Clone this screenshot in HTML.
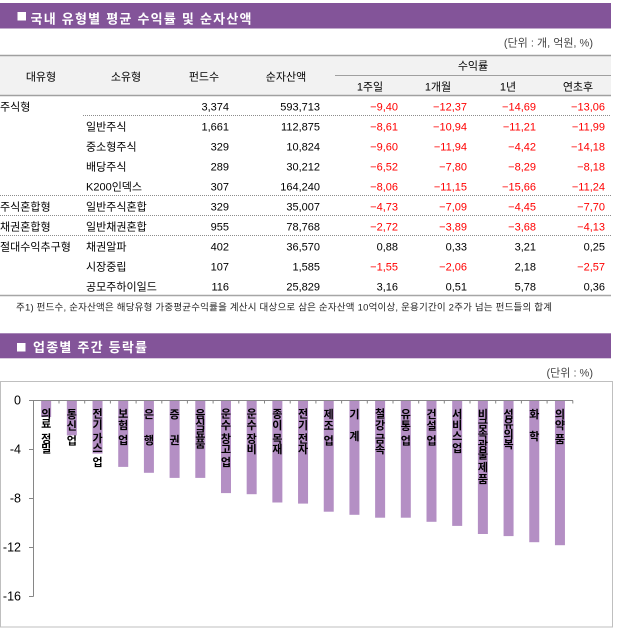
<!DOCTYPE html>
<html>
<head>
<meta charset="utf-8">
<style>
html,body{margin:0;padding:0;background:#fff;}
svg{display:block;}
text{font-family:"Liberation Sans","Noto Sans CJK KR",sans-serif;}
</style>
</head>
<body>
<svg width="617" height="629" viewBox="0 0 617 629" xmlns="http://www.w3.org/2000/svg">
<rect x="0" y="0" width="617" height="629" fill="#fff"/>

<!-- Title 1 -->
<rect x="0" y="3" width="611" height="25.5" fill="#835499"/>
<rect x="17.5" y="12" width="8.5" height="8.5" fill="#fff"/>
<text x="30.5" y="23.5" font-size="13" font-weight="bold" fill="#fff" textLength="221" lengthAdjust="spacing">국내 유형별 평균 수익률 및 순자산액</text>

<text x="593" y="46.5" font-size="11" fill="#444" text-anchor="end">(단위 : 개, 억원, %)</text>

<!-- Table header -->
<rect x="0" y="55" width="611" height="40.5" fill="#f2f2f2"/>
<line x1="0" y1="55.5" x2="611" y2="55.5" stroke="#a0a0a0" stroke-width="1.5"/>
<line x1="0" y1="95.5" x2="611" y2="95.5" stroke="#a0a0a0" stroke-width="1.5"/>
<line x1="335" y1="75.5" x2="611" y2="75.5" stroke="#a0a0a0" stroke-width="1"/>

<g font-size="11" fill="#000" text-anchor="middle">
<text x="41" y="80.5">대유형</text>
<text x="126" y="80.5">소유형</text>
<text x="204" y="80.5">펀드수</text>
<text x="286" y="80.5">순자산액</text>
<text x="473" y="69.5">수익률</text>
<text x="370" y="90.5">1주일</text>
<text x="438" y="90.5">1개월</text>
<text x="508" y="90.5">1년</text>
<text x="578" y="90.5">연초후</text>
</g>

<!-- dotted separators -->
<g stroke="#8c8c8c" stroke-width="1" stroke-dasharray="1,1">
<line x1="83" y1="115.5" x2="611" y2="115.5"/>
<line x1="0" y1="195.5" x2="611" y2="195.5"/>
<line x1="0" y1="215.5" x2="611" y2="215.5"/>
<line x1="0" y1="235.5" x2="611" y2="235.5"/>
</g>
<line x1="0" y1="295.5" x2="611" y2="295.5" stroke="#a6a6a6" stroke-width="1.5"/>

<!-- Table body -->
<g font-size="11" fill="#000">
<text x="0" y="110.7">주식형</text>
<text x="0" y="210.7">주식혼합형</text>
<text x="0" y="230.7">채권혼합형</text>
<text x="0" y="250.7">절대수익추구형</text>

<text x="86" y="130.7">일반주식</text>
<text x="86" y="150.7">중소형주식</text>
<text x="86" y="170.7">배당주식</text>
<text x="86" y="190.7">K200인덱스</text>
<text x="86" y="210.7">일반주식혼합</text>
<text x="86" y="230.7">일반채권혼합</text>
<text x="86" y="250.7">채권알파</text>
<text x="86" y="270.7">시장중립</text>
<text x="86" y="290.7">공모주하이일드</text>
</g>

<g font-size="11" fill="#000" text-anchor="end">
<text x="229" y="110.7">3,374</text>
<text x="229" y="130.7">1,661</text>
<text x="229" y="150.7">329</text>
<text x="229" y="170.7">289</text>
<text x="229" y="190.7">307</text>
<text x="229" y="210.7">329</text>
<text x="229" y="230.7">955</text>
<text x="229" y="250.7">402</text>
<text x="229" y="270.7">107</text>
<text x="229" y="290.7">116</text>

<text x="320" y="110.7">593,713</text>
<text x="320" y="130.7">112,875</text>
<text x="320" y="150.7">10,824</text>
<text x="320" y="170.7">30,212</text>
<text x="320" y="190.7">164,240</text>
<text x="320" y="210.7">35,007</text>
<text x="320" y="230.7">78,768</text>
<text x="320" y="250.7">36,570</text>
<text x="320" y="270.7">1,585</text>
<text x="320" y="290.7">25,829</text>
</g>

<g font-size="11" text-anchor="end" fill="#ff0000">
<text x="398" y="110.7">−9,40</text>
<text x="467" y="110.7">−12,37</text>
<text x="536" y="110.7">−14,69</text>
<text x="605" y="110.7">−13,06</text>

<text x="398" y="130.7">−8,61</text>
<text x="467" y="130.7">−10,94</text>
<text x="536" y="130.7">−11,21</text>
<text x="605" y="130.7">−11,99</text>

<text x="398" y="150.7">−9,60</text>
<text x="467" y="150.7">−11,94</text>
<text x="536" y="150.7">−4,42</text>
<text x="605" y="150.7">−14,18</text>

<text x="398" y="170.7">−6,52</text>
<text x="467" y="170.7">−7,80</text>
<text x="536" y="170.7">−8,29</text>
<text x="605" y="170.7">−8,18</text>

<text x="398" y="190.7">−8,06</text>
<text x="467" y="190.7">−11,15</text>
<text x="536" y="190.7">−15,66</text>
<text x="605" y="190.7">−11,24</text>

<text x="398" y="210.7">−4,73</text>
<text x="467" y="210.7">−7,09</text>
<text x="536" y="210.7">−4,45</text>
<text x="605" y="210.7">−7,70</text>

<text x="398" y="230.7">−2,72</text>
<text x="467" y="230.7">−3,89</text>
<text x="536" y="230.7">−3,68</text>
<text x="605" y="230.7">−4,13</text>

<text x="398" y="270.7">−1,55</text>
<text x="467" y="270.7">−2,06</text>
<text x="605" y="270.7">−2,57</text>
</g>
<g font-size="11" text-anchor="end" fill="#000">
<text x="398" y="250.7">0,88</text>
<text x="467" y="250.7">0,33</text>
<text x="536" y="250.7">3,21</text>
<text x="605" y="250.7">0,25</text>
<text x="536" y="270.7">2,18</text>
<text x="398" y="290.7">3,16</text>
<text x="467" y="290.7">0,51</text>
<text x="536" y="290.7">5,78</text>
<text x="605" y="290.7">0,36</text>
</g>

<text x="16" y="310.5" font-size="9.5" fill="#222" textLength="536" lengthAdjust="spacing">주1) 펀드수, 순자산액은 해당유형 가중평균수익률을 계산시 대상으로 삼은 순자산액 10억이상, 운용기간이 2주가 넘는 펀드들의 합계</text>

<!-- Title 2 -->
<rect x="0" y="333.3" width="611" height="25" fill="#835499"/>
<rect x="17" y="343" width="8.5" height="8.5" fill="#fff"/>
<text x="33" y="352" font-size="13" font-weight="bold" fill="#fff" textLength="114" lengthAdjust="spacing">업종별 주간 등락률</text>

<text x="593" y="376.5" font-size="11" fill="#444" text-anchor="end">(단위 : %)</text>

<!-- Chart frame -->
<rect x="0.5" y="381.5" width="612" height="245.5" fill="#fff" stroke="#bfbfbf" stroke-width="1"/>

<!-- Bars -->
<g fill="#b48fc4">
<rect x="41.15" y="400.5" width="10" height="16.5"/>
<rect x="66.84" y="400.5" width="10" height="34.9"/>
<rect x="92.53" y="400.5" width="10" height="53"/>
<rect x="118.22" y="400.5" width="10" height="66.4"/>
<rect x="143.91" y="400.5" width="10" height="72.3"/>
<rect x="169.6" y="400.5" width="10" height="77.4"/>
<rect x="195.29" y="400.5" width="10" height="77.4"/>
<rect x="220.98" y="400.5" width="10" height="92.6"/>
<rect x="246.67" y="400.5" width="10" height="93.7"/>
<rect x="272.36" y="400.5" width="10" height="102"/>
<rect x="298.05" y="400.5" width="10" height="103.1"/>
<rect x="323.74" y="400.5" width="10" height="111.2"/>
<rect x="349.43" y="400.5" width="10" height="114.3"/>
<rect x="375.12" y="400.5" width="10" height="117.2"/>
<rect x="400.81" y="400.5" width="10" height="117.2"/>
<rect x="426.5" y="400.5" width="10" height="121.3"/>
<rect x="452.19" y="400.5" width="10" height="125.4"/>
<rect x="477.88" y="400.5" width="10" height="133.5"/>
<rect x="503.57" y="400.5" width="10" height="135.6"/>
<rect x="529.26" y="400.5" width="10" height="141.7"/>
<rect x="554.95" y="400.5" width="10" height="144.7"/>
</g>

<!-- Axes -->
<g stroke="#868686" stroke-width="1">
<line x1="33.5" y1="400" x2="33.5" y2="596.5"/>
<line x1="29" y1="400.5" x2="573" y2="400.5"/>
<line x1="29" y1="449.5" x2="33.5" y2="449.5"/>
<line x1="29" y1="498.5" x2="33.5" y2="498.5"/>
<line x1="29" y1="547.5" x2="33.5" y2="547.5"/>
<line x1="29" y1="596.5" x2="33.5" y2="596.5"/>
</g>
<g stroke="#868686" stroke-width="1">
<line x1="59" y1="400.5" x2="59" y2="403.5"/>
<line x1="84.7" y1="400.5" x2="84.7" y2="403.5"/>
<line x1="110.4" y1="400.5" x2="110.4" y2="403.5"/>
<line x1="136.1" y1="400.5" x2="136.1" y2="403.5"/>
<line x1="161.8" y1="400.5" x2="161.8" y2="403.5"/>
<line x1="187.4" y1="400.5" x2="187.4" y2="403.5"/>
<line x1="213.1" y1="400.5" x2="213.1" y2="403.5"/>
<line x1="238.8" y1="400.5" x2="238.8" y2="403.5"/>
<line x1="264.5" y1="400.5" x2="264.5" y2="403.5"/>
<line x1="290.2" y1="400.5" x2="290.2" y2="403.5"/>
<line x1="315.9" y1="400.5" x2="315.9" y2="403.5"/>
<line x1="341.6" y1="400.5" x2="341.6" y2="403.5"/>
<line x1="367.3" y1="400.5" x2="367.3" y2="403.5"/>
<line x1="393" y1="400.5" x2="393" y2="403.5"/>
<line x1="418.7" y1="400.5" x2="418.7" y2="403.5"/>
<line x1="444.3" y1="400.5" x2="444.3" y2="403.5"/>
<line x1="470" y1="400.5" x2="470" y2="403.5"/>
<line x1="495.7" y1="400.5" x2="495.7" y2="403.5"/>
<line x1="521.4" y1="400.5" x2="521.4" y2="403.5"/>
<line x1="547.1" y1="400.5" x2="547.1" y2="403.5"/>
<line x1="572.8" y1="400.5" x2="572.8" y2="403.5"/>
</g>

<!-- Y labels -->
<g font-size="12.5" fill="#000" text-anchor="end">
<text x="21" y="404.5">0</text>
<text x="21" y="453.5">-4</text>
<text x="21" y="502.5">-8</text>
<text x="21" y="551.5">-12</text>
<text x="21" y="600.5">-16</text>
</g>

<!-- Category labels (vertical stacked) -->
<g font-size="11" font-weight="bold" fill="#000" text-anchor="middle">
<text><tspan x="46.15" y="417.5">의</tspan><tspan x="46.15" y="427.5">료</tspan><tspan x="46.15" y="442.5">정</tspan><tspan x="46.15" y="452.5">밀</tspan></text>
<text><tspan x="71.84" y="418">통</tspan><tspan x="71.84" y="429.5">신</tspan><tspan x="71.84" y="444.5">업</tspan></text>
<text><tspan x="97.53" y="417.5">전</tspan><tspan x="97.53" y="428.5">기</tspan><tspan x="97.53" y="442">가</tspan><tspan x="97.53" y="452">스</tspan><tspan x="97.53" y="466">업</tspan></text>
<text><tspan x="123.22" y="417.5">보</tspan><tspan x="123.22" y="429">험</tspan><tspan x="123.22" y="444">업</tspan></text>
<text><tspan x="148.91" y="418">은</tspan><tspan x="148.91" y="444">행</tspan></text>
<text><tspan x="174.6" y="418">증</tspan><tspan x="174.6" y="444">권</tspan></text>
<text><tspan x="200.29" y="418">음</tspan><tspan x="200.29" y="428">식</tspan><tspan x="200.29" y="437.5">료</tspan><tspan x="200.29" y="447.5">품</tspan></text>
<text><tspan x="225.98" y="417.5">운</tspan><tspan x="225.98" y="429">수</tspan><tspan x="225.98" y="442.5">창</tspan><tspan x="225.98" y="453">고</tspan><tspan x="225.98" y="466">업</tspan></text>
<text><tspan x="251.67" y="417.5">운</tspan><tspan x="251.67" y="429">수</tspan><tspan x="251.67" y="442.5">장</tspan><tspan x="251.67" y="453">비</tspan></text>
<text><tspan x="277.36" y="417.5">종</tspan><tspan x="277.36" y="429">이</tspan><tspan x="277.36" y="442.5">목</tspan><tspan x="277.36" y="453">재</tspan></text>
<text><tspan x="303.05" y="417.5">전</tspan><tspan x="303.05" y="429">기</tspan><tspan x="303.05" y="442.5">전</tspan><tspan x="303.05" y="453">자</tspan></text>
<text><tspan x="328.74" y="418">제</tspan><tspan x="328.74" y="429.5">조</tspan><tspan x="328.74" y="444.5">업</tspan></text>
<text><tspan x="354.43" y="418">기</tspan><tspan x="354.43" y="440">계</tspan></text>
<text><tspan x="380.12" y="417.5">철</tspan><tspan x="380.12" y="429">강</tspan><tspan x="380.12" y="442.5">금</tspan><tspan x="380.12" y="453">속</tspan></text>
<text><tspan x="405.81" y="418">유</tspan><tspan x="405.81" y="429.5">통</tspan><tspan x="405.81" y="444.5">업</tspan></text>
<text><tspan x="431.5" y="418">건</tspan><tspan x="431.5" y="429.5">설</tspan><tspan x="431.5" y="444.5">업</tspan></text>
<text><tspan x="457.19" y="418">서</tspan><tspan x="457.19" y="429">비</tspan><tspan x="457.19" y="440">스</tspan><tspan x="457.19" y="452">업</tspan></text>
<text><tspan x="482.88" y="418">비</tspan><tspan x="482.88" y="427.5">금</tspan><tspan x="482.88" y="437.5">속</tspan><tspan x="482.88" y="448.5">광</tspan><tspan x="482.88" y="458.5">물</tspan><tspan x="482.88" y="471">제</tspan><tspan x="482.88" y="483">품</tspan></text>
<text><tspan x="508.57" y="418">섬</tspan><tspan x="508.57" y="427.5">유</tspan><tspan x="508.57" y="438">의</tspan><tspan x="508.57" y="448">복</tspan></text>
<text><tspan x="534.26" y="418">화</tspan><tspan x="534.26" y="440">학</tspan></text>
<text><tspan x="559.95" y="418">의</tspan><tspan x="559.95" y="429">약</tspan><tspan x="559.95" y="443">품</tspan></text>
</g>
</svg>
</body>
</html>
